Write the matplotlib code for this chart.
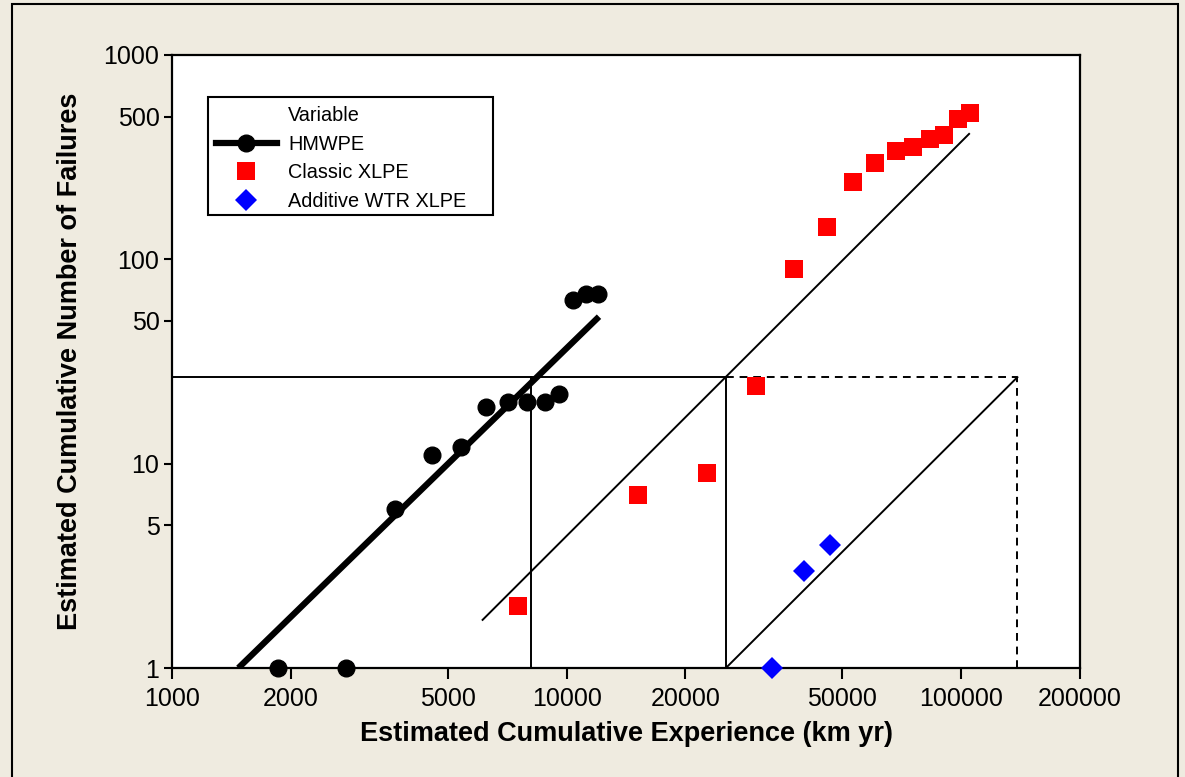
import matplotlib.pyplot as plt
import numpy as np
from matplotlib.lines import Line2D
from matplotlib.patches import Rectangle

plt.rcParams['font.family'] = ['Liberation Sans', 'DejaVu Sans']

# data (log-log)
hmwpe_x = [1856, 2762, 3673, 4560, 5400, 6250, 7100, 7940, 8820, 9570, 10370, 11200, 12000]
hmwpe_y = [1, 1, 6, 11, 12, 19, 20, 20, 20, 22, 63, 68, 68]

classic_x = [7530, 15170, 22700, 30200, 37700, 45700, 53200, 60500, 68400, 75500,
             83400, 90400, 98200, 105300]
classic_y = [2, 7, 9, 24, 90, 144, 239, 296, 340, 355, 388, 406, 487, 521]

wtr_x = [33150, 39980, 46500]
wtr_y = [1, 3, 4]

# fitted lines (end points)
hmwpe_fit_x = [1473, 12080]
hmwpe_fit_y = [1, 52.4]
classic_fit_x = [6125, 104700]
classic_fit_y = [1.72, 411]
wtr_fit_x = [25330, 138800]
wtr_fit_y = [1, 26.5]

# reference construction lines
ref_y = 26.5
ref_x_hmwpe = 8110
ref_x_classic = 25330
ref_x_wtr = 138800

x_ticks = [1000, 2000, 5000, 10000, 20000, 50000, 100000, 200000]
y_ticks = [1, 5, 10, 50, 100, 500, 1000]

bg = '#efebe0'
W, H = 1185, 777
fig = plt.figure(figsize=(W / 100, H / 100), dpi=100, facecolor=bg)
ax = fig.add_axes([172 / W, 1 - 668 / H, 908 / W, 613 / H])
ax.set_facecolor('white')

# outer frame
fig.add_artist(Rectangle((12 / W, -0.05), 1166 / W, 1.05 - 4 / H,
                         transform=fig.transFigure, fill=False, edgecolor='black', lw=1.5))

ax.set_xscale('log')
ax.set_yscale('log')
ax.set_xlim(1000, 200000)
ax.set_ylim(1, 1000)

# construction lines
ax.plot([1000, ref_x_classic], [ref_y, ref_y], color='black', lw=1.4)
ax.plot([ref_x_classic, ref_x_wtr], [ref_y, ref_y], color='black', lw=1.4, dashes=(4, 3))
ax.plot([ref_x_hmwpe, ref_x_hmwpe], [1, ref_y], color='black', lw=1.4)
ax.plot([ref_x_classic, ref_x_classic], [1, ref_y], color='black', lw=1.4)
ax.plot([ref_x_wtr, ref_x_wtr], [1, ref_y], color='black', lw=1.4, dashes=(4, 3))

# fits
ax.plot(hmwpe_fit_x, hmwpe_fit_y, color='black', lw=4.5, solid_capstyle='butt')
ax.plot(classic_fit_x, classic_fit_y, color='black', lw=1.4)
ax.plot(wtr_fit_x, wtr_fit_y, color='black', lw=1.4)

# points
ax.plot(hmwpe_x, hmwpe_y, 'o', color='black', ms=12, clip_on=False, zorder=5)
ax.plot(classic_x, classic_y, 's', color='red', ms=13, mew=0, clip_on=False, zorder=5)
ax.plot(wtr_x, wtr_y, 'D', color='blue', ms=11, mew=0, clip_on=False, zorder=5)

ax.set_xticks(x_ticks)
ax.set_xticklabels([str(t) for t in x_ticks])
ax.set_yticks(y_ticks)
ax.set_yticklabels([str(t) for t in y_ticks])
ax.minorticks_off()
ax.tick_params(axis='x', length=8, width=1.5, pad=5.5, labelsize=18)
ax.tick_params(axis='y', length=6, width=1.5, pad=3, labelsize=18)
for s in ax.spines.values():
    s.set_linewidth(1.6)

ax.set_xlabel('Estimated Cumulative Experience (km yr)', fontsize=19.5, fontweight='bold')
ax.set_ylabel('Estimated Cumulative Number of Failures', fontsize=19.5, fontweight='bold')
ax.xaxis.set_label_coords(0.5, -0.086)
ax.yaxis.set_label_coords(-0.0975, 0.5)

# legend (frame drawn separately, Minitab style)
handles = [
    Line2D([], [], linestyle='none'),
    Line2D([], [], color='black', lw=4.5, marker='o', ms=12),
    Line2D([], [], linestyle='none', marker='s', color='red', ms=13, mew=0),
    Line2D([], [], linestyle='none', marker='D', color='blue', ms=11, mew=0),
]
labels = ['Variable', 'HMWPE', 'Classic XLPE', 'Additive WTR XLPE']
ax.legend(handles, labels, loc='upper left',
          bbox_to_anchor=((216 - 172) / 908, 1 - (106 - 55) / 613),
          fontsize=14.3, frameon=False, handlelength=3.05, handletextpad=0.57,
          labelspacing=0.48, borderpad=0, borderaxespad=0)
ax.add_patch(Rectangle(((208 - 172) / 908, 1 - (215 - 55) / 613), 285 / 908, 118 / 613,
                       transform=ax.transAxes, fill=False, edgecolor='black', lw=1.5,
                       zorder=6))

fig.savefig('out.png', dpi=100, facecolor=bg)
